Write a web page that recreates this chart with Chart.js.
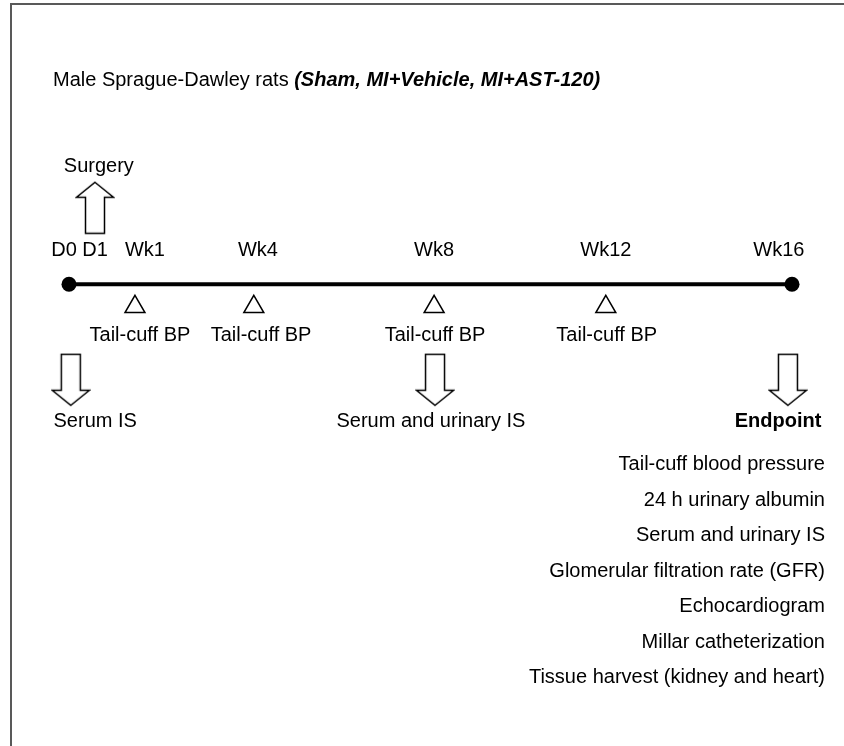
<!DOCTYPE html>
<html><head><meta charset="utf-8">
<script src="https://cdn.jsdelivr.net/npm/chart.js@4"></script>
<style>html,body{margin:0;padding:0;background:#fff}#wrap{width:844px;height:746px;position:relative}</style>
</head><body><div id="wrap"><canvas id="c"></canvas></div>
<script>
// ---- data (positions along the schematic week axis) ----
const timeLabels = ['D0','D1','Wk1','Wk4','Wk8','Wk12','Wk16'];
const timeLabelPos = [-0.11, 0.575, 1.68, 4.18, 8.08, 11.88, 15.71];
const timelineEnds = [0, 16];
const bpPos = [1.46, 4.09, 8.08, 11.88];
const bpLabels = ['Tail-cuff BP','Tail-cuff BP','Tail-cuff BP','Tail-cuff BP'];
const bpLabelPos = [1.57, 4.25, 8.1, 11.9];
const surgeryPos = [0.575];
const surgeryLabels = ['Surgery'];
const surgeryLabelPos = [0.66];
const samplePos = [0.04, 8.1, 15.91];
const sampleLabels = ['Serum IS','Serum and urinary IS','Endpoint'];
const sampleLabelPos = [0.58, 8.01, 15.69];
const endpointItems = ['Tail-cuff blood pressure','24 h urinary albumin','Serum and urinary IS','Glomerular filtration rate (GFR)','Echocardiogram','Millar catheterization','Tissue harvest (kidney and heart)'];
const endpointItemsRight = 16.73;
const titlePlain = 'Male Sprague-Dawley rats ';
const titleGroups = '(Sham, MI+Vehicle, MI+AST-120)';
const titleLeft = -0.354;

// ---- layout lanes (vertical rows, timeline = 0) ----
const LANE = {title:5.85, surgeryText:3.4, upArrow:2.2, timeLabel:0.97, line:0, tri:-0.65,
  bpLabel:-1.47, downArrow:-2.75, sampleLabel:-3.94, listTop:-5.2, listStep:1.02};
const FONT = '"Liberation Sans", Arial, sans-serif';
const FS = 20;

function makeArrow(up){
  const w=40,h=54,c=document.createElement('canvas');c.width=w;c.height=h;
  const g=c.getContext('2d');g.strokeStyle='#000';g.lineWidth=1.5;g.fillStyle='#fff';
  const cx=w/2, hw=18.5, sw=9.5, hh=15, t=1.5, b=h-1.5;
  g.beginPath();
  if(up){
    g.moveTo(cx,t);g.lineTo(cx+hw,t+hh);g.lineTo(cx+sw,t+hh);g.lineTo(cx+sw,b);
    g.lineTo(cx-sw,b);g.lineTo(cx-sw,t+hh);g.lineTo(cx-hw,t+hh);
  } else {
    g.moveTo(cx,b);g.lineTo(cx+hw,b-hh);g.lineTo(cx+sw,b-hh);g.lineTo(cx+sw,t);
    g.lineTo(cx-sw,t);g.lineTo(cx-sw,b-hh);g.lineTo(cx-hw,b-hh);
  }
  g.closePath();g.fill();g.stroke();
  return c;
}
const upArrow = makeArrow(true), downArrow = makeArrow(false);

const textPlugin = {
  id:'texts',
  afterDraw(chart){
    const ctx=chart.ctx, xs=chart.scales.x, ys=chart.scales.y;
    ctx.save();
    // frame
    ctx.fillStyle='#595959';
    ctx.fillRect(10,3,2,743);
    ctx.fillRect(10,3,834,2);
    ctx.fillStyle='#000';
    ctx.textBaseline='middle';
    const put=(txt,xv,yv,align,weight)=>{
      ctx.font=(weight||'')+' '+FS+'px '+FONT;
      ctx.textAlign=align||'center';
      ctx.fillText(txt,xs.getPixelForValue(xv),ys.getPixelForValue(yv));
    };
    // title
    ctx.font=FS+'px '+FONT; ctx.textAlign='left';
    const tx=xs.getPixelForValue(titleLeft), ty=ys.getPixelForValue(LANE.title);
    ctx.fillText(titlePlain,tx,ty);
    const w=ctx.measureText(titlePlain).width;
    ctx.font='italic bold '+FS+'px '+FONT;
    ctx.fillText(titleGroups,tx+w,ty);
    surgeryLabels.forEach((t,i)=>put(t,surgeryLabelPos[i],LANE.surgeryText));
    timeLabels.forEach((t,i)=>put(t,timeLabelPos[i],LANE.timeLabel));
    bpLabels.forEach((t,i)=>put(t,bpLabelPos[i],LANE.bpLabel));
    sampleLabels.forEach((t,i)=>put(t,sampleLabelPos[i],LANE.sampleLabel,'center',i===sampleLabels.length-1?'bold':''));
    endpointItems.forEach((t,i)=>put(t,endpointItemsRight,LANE.listTop-i*LANE.listStep,'right'));
    ctx.restore();
  }
};

new Chart(document.getElementById('c'),{
  type:'scatter',
  data:{datasets:[
    {data:timelineEnds.map(x=>({x,y:LANE.line})),showLine:true,borderColor:'#000',borderWidth:4,
     pointRadius:7.5,pointBackgroundColor:'#000',pointBorderColor:'#000',pointBorderWidth:0,clip:false},
    {data:bpPos.map(x=>({x,y:LANE.tri})),pointStyle:'triangle',pointRadius:11.5,
     pointBackgroundColor:'#fff',pointBorderColor:'#000',pointBorderWidth:1.5,clip:false},
    {data:surgeryPos.map(x=>({x,y:LANE.upArrow})),pointStyle:upArrow,clip:false},
    {data:samplePos.map(x=>({x,y:LANE.downArrow})),pointStyle:downArrow,clip:false}
  ]},
  options:{
    responsive:true,maintainAspectRatio:false,animation:false,
    layout:{padding:{left:69,right:52,top:0,bottom:0}},
    plugins:{legend:{display:false},tooltip:{enabled:false},title:{display:false}},
    scales:{
      x:{type:'linear',min:0,max:16,display:false},
      y:{type:'linear',min:(281-746)/36,max:281/36,display:false}
    },
    events:[]
  },
  plugins:[textPlugin]
});
</script></body></html>
